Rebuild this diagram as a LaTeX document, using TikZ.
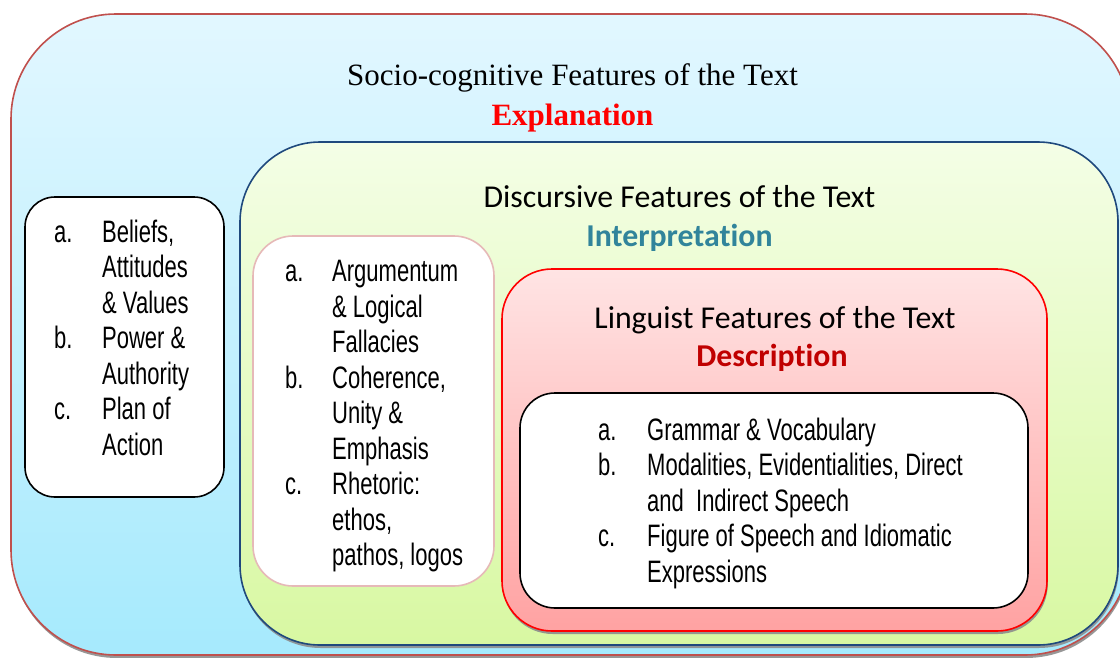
\documentclass[tikz,border=0pt]{standalone}
\usepackage{fontspec}
\usetikzlibrary{shadows}
\newfontfamily\titleserif{Liberation Serif}
\newfontfamily\calib[Ligatures={NoCommon}]{Carlito}
\newfontfamily\listfont[FakeStretch=0.71]{Liberation Sans}
\definecolor{outerline}{HTML}{C0504D}
\definecolor{outertop}{HTML}{E2F7FF}
\definecolor{outerbot}{HTML}{A6EAFD}
\definecolor{greenline}{HTML}{1F497D}
\definecolor{greentop}{HTML}{F4FEE6}
\definecolor{greenbot}{HTML}{D8F8A2}
\definecolor{redtop}{HTML}{FFE4E4}
\definecolor{redbot}{HTML}{FFA2A2}
\definecolor{pinkline}{HTML}{E6B9B8}
\definecolor{teal}{HTML}{31849B}
\definecolor{darkred}{HTML}{C00000}
\begin{document}
\begin{tikzpicture}[x=1pt,y=-1pt,
  panel/.style={draw, anchor=north west, inner sep=0pt, outer sep=0pt, line width=1.6pt},
  shad/.style={drop shadow={shadow xshift=0.8pt, shadow yshift=-3pt, fill=black!45, opacity=0.9}},
  serifhead/.style={font=\titleserif\fontsize{31}{36}\selectfont, anchor=base, inner sep=0pt},
  calhead/.style={font=\calib\fontsize{31.8}{36}\selectfont, anchor=base, inner sep=0pt},
  listnode/.style={font=\listfont\fontsize{31}{35.5}\selectfont, anchor=base west, inner sep=0pt, align=left}
]
\clip (0,0) rectangle (1120,657);
\fill[white] (0,0) rectangle (1120,657);

% outer box
\node[panel, shad, draw=outerline, top color=outertop, bottom color=outerbot,
  rounded corners=105pt, minimum width=1119pt, minimum height=641pt] (outer) at (11,14) {};
% green box
\node[panel, shad, draw=greenline, top color=greentop, bottom color=greenbot,
  rounded corners=80pt, minimum width=878pt, minimum height=503pt] (green) at (240,142) {};
% left white box
\node[panel, draw=black, fill=white, rounded corners=30pt,
  minimum width=199pt, minimum height=300pt] (leftbox) at (25,197) {};
% middle white box
\node[panel, draw=pinkline, fill=white, rounded corners=40pt,
  minimum width=241pt, minimum height=350pt] (midbox) at (253,236) {};
% red box
\node[panel, shad, draw=red, top color=redtop, bottom color=redbot,
  rounded corners=50pt, minimum width=545pt, minimum height=362pt] (redbox) at (502,269) {};
% inner white box
\node[panel, draw=black, fill=white, rounded corners=35pt,
  minimum width=508pt, minimum height=215pt] (innerbox) at (520,393) {};

% headings
\node[serifhead] (socio) at (572.5,85) {Socio-cognitive Features of the Text};
\node[serifhead, font=\titleserif\bfseries\fontsize{31}{36}\selectfont, text=red] (expl) at (572.5,125) {Explanation};
\node[calhead] (disc) at (679.5,207) {Discursive Features of the Text};
\node[calhead, font=\calib\bfseries\fontsize{31.8}{36}\selectfont, text=teal] (interp) at (679.5,246) {Interpretation};
\node[calhead] (ling) at (775,328) {Linguist Features of the Text};
\node[calhead, font=\calib\bfseries\fontsize{31.8}{36}\selectfont, text=darkred] (descr) at (772,366) {Description};

% lists
\node[listnode] (listA) at (54,242) {\begin{tabular}[t]{@{}p{48pt}@{}l@{}}
a. & Beliefs,\\
   & Attitudes\\
   & \& Values\\
b. & Power \&\\
   & Authority\\
c. & Plan of\\
   & Action
\end{tabular}};
\node[listnode] (listB) at (285,281.5) {\begin{tabular}[t]{@{}p{47pt}@{}l@{}}
a. & Argumentum\\
   & \& Logical\\
   & Fallacies\\
b. & Coherence,\\
   & Unity \&\\
   & Emphasis\\
c. & Rhetoric:\\
   & ethos,\\
   & pathos, logos
\end{tabular}};
\node[listnode] (listC) at (598,440) {\begin{tabular}[t]{@{}p{49pt}@{}l@{}}
a. & Grammar \& Vocabulary\\
b. & Modalities, Evidentialities, Direct\\
   & and\ \ Indirect Speech\\
c. & Figure of Speech and Idiomatic\\
   & Expressions
\end{tabular}};
\end{tikzpicture}
\end{document}
